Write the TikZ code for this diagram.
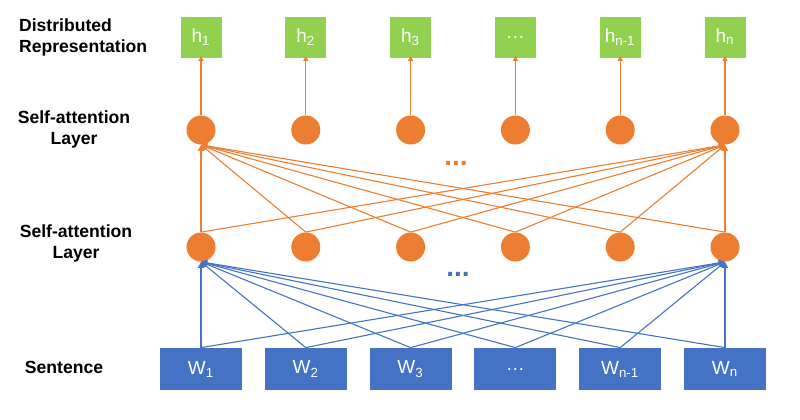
\documentclass[tikz,border=0pt]{standalone}
\usepackage{fontspec}
\setmainfont{Liberation Sans}
\usetikzlibrary{positioning,arrows.meta}
\definecolor{wordblue}{HTML}{4472C4}
\definecolor{unitorange}{HTML}{ED7D31}
\definecolor{repgreen}{HTML}{92D050}

\begin{document}
\begin{tikzpicture}[
        x=0.5pt, y=-0.5pt,
        word/.style={rectangle, fill=wordblue, text=white, minimum width=41pt, minimum height=21pt, inner sep=0pt, font=\fontsize{9.5}{11}\selectfont},
        rep/.style={rectangle, fill=repgreen, text=white, minimum size=20.5pt, inner sep=0pt, font=\fontsize{9.5}{11}\selectfont},
        unit/.style={circle, fill=unitorange, minimum size=14.5pt, inner sep=0pt},
        rowname/.style={font=\bfseries\fontsize{8.8}{10.5}\selectfont, align=center},
        blueedge/.style={draw=wordblue, line width=0.55pt, -{Triangle[length=3pt, width=3pt]}},
        orangeedge/.style={draw=unitorange, line width=0.55pt, -{Triangle[length=3pt, width=3pt]}}
    ]
        \useasboundingbox (0,0) rectangle (800,419);

        % Row names
        \node[rowname, align=left, anchor=west] (lrep) at (12,37) {Distributed\\Representation};
        \node[rowname] (lsa2) at (74,129) {Self-attention\\Layer};
        \node[rowname] (lsa1) at (76,243) {Self-attention\\Layer};
        \node[rowname] (lsen) at (64,367) {Sentence};

        % Words, units and representations
        \foreach \i/\t in {1/W\textsubscript{1}, 2/W\textsubscript{2}, 3/W\textsubscript{3}, 4/\dots, 5/W\textsubscript{n-1}, 6/W\textsubscript{n}}
            \node[word] (w\i) at ({96.2+104.8*\i},369) {\t};
        \foreach \i/\t in {1/h\textsubscript{1}, 2/h\textsubscript{2}, 3/h\textsubscript{3}, 4/\dots, 5/h\textsubscript{n-1}, 6/h\textsubscript{n}}
            \node[rep] (h\i) at ({96.2+104.8*\i},37) {\t};
        \foreach \i in {1,...,6} {
            \node[unit] (a\i) at ({96.2+104.8*\i},247) {};
            \node[unit] (b\i) at ({96.2+104.8*\i},130) {};
        }

        % Edges
        \foreach \i in {1,...,6} {
            \draw[blueedge] (w\i.north) -- (a1.south);
            \draw[blueedge] (w\i.north) -- (a6.south);
            \draw[orangeedge] (a\i.north) -- (b1.south);
            \draw[orangeedge] (a\i.north) -- (b6.south);
            \draw[orangeedge, -{Triangle[length=2.5pt, width=2.5pt]}] (b\i.north) -- ([yshift=1pt]h\i.south);
        }

        % Dots
        \node[text=unitorange, font=\bfseries\fontsize{14}{14}\selectfont] (odots) at (456,163) {...};
        \node[text=wordblue, font=\bfseries\fontsize{14}{14}\selectfont] (bdots) at (458,274) {...};
    \end{tikzpicture}
\end{document}
